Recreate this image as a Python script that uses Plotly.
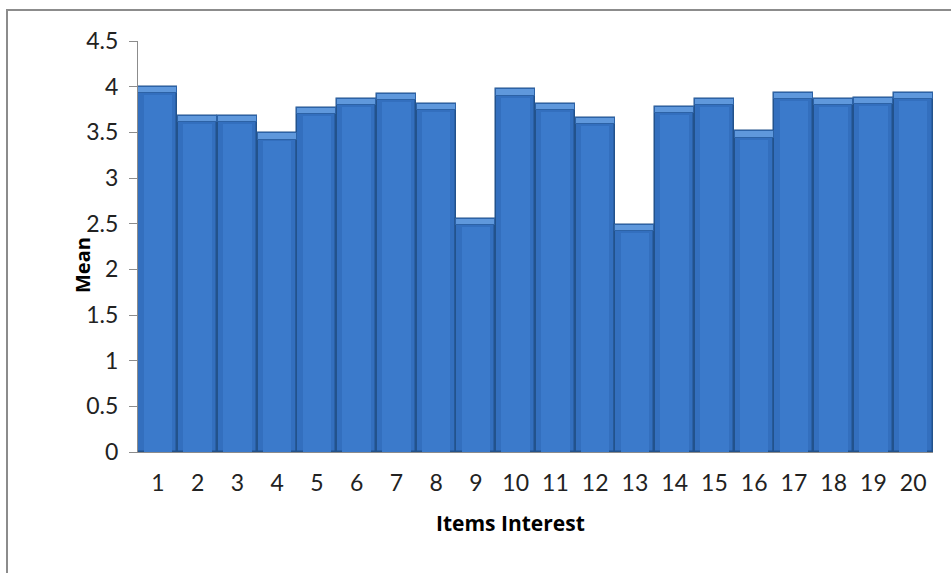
import plotly.graph_objects as go

items = [str(i) for i in range(1, 21)]
means = [4.00, 3.68, 3.68, 3.49, 3.77, 3.87, 3.92, 3.81, 2.55, 3.97,
         3.81, 3.66, 2.49, 3.78, 3.87, 3.51, 3.93, 3.87, 3.88, 3.93]
y_ticks = [0, 0.5, 1, 1.5, 2, 2.5, 3, 3.5, 4, 4.5]
y_tick_text = ["0", "0.5", "1", "1.5", "2", "2.5", "3", "3.5", "4", "4.5"]

W, H = 951, 573
L, R, T, B = 138, 18, 41, 121
pw, ph = W - L - R, H - T - B

fig = go.Figure()
# main bars
fig.add_trace(go.Bar(
    x=items, y=means,
    marker=dict(color="#336FBE", line=dict(color="#22528C", width=1.5)),
    width=0.98, hoverinfo="x+y"))
# inner highlight (cylinder shading)
fig.add_trace(go.Bar(
    x=items, y=[m - 0.09 for m in means],
    marker=dict(color="#3B7ACB", line=dict(width=0)),
    width=0.72, hoverinfo="skip"))
# top bevel highlight
fig.add_trace(go.Bar(
    x=items, y=[0.07] * len(means), base=[m - 0.07 for m in means],
    marker=dict(color="#5F98DC", line=dict(color="#2C62A6", width=1)),
    width=0.98, hoverinfo="skip"))

fig.update_layout(
    width=W, height=H,
    margin=dict(l=L, r=R, t=T, b=B, autoexpand=False),
    paper_bgcolor="white", plot_bgcolor="white",
    showlegend=False, barmode="overlay", bargap=0.0,
    font=dict(family="Open Sans, Lato, sans-serif", color="#222"),
    xaxis=dict(
        type="category", showgrid=False, showline=True, linecolor="#8C8C8C",
        linewidth=1, ticks="", tickfont=dict(size=23, family="Lato", color="#222"),
        ticklabelstandoff=10, automargin=False),
    yaxis=dict(
        range=[0, 4.5], tickvals=y_ticks, ticktext=y_tick_text,
        showgrid=False, showline=True, linecolor="#8C8C8C", linewidth=1,
        ticks="outside", ticklen=8, tickcolor="#8C8C8C",
        tickfont=dict(size=23, family="Lato", color="#222"),
        ticklabelstandoff=6, automargin=False, zeroline=False),
    annotations=[
        dict(text="<b>Mean</b>", xref="paper", yref="paper",
             x=(82 - L) / pw, y=1 - (265 - T) / ph, textangle=-90,
             showarrow=False, font=dict(size=20, family="Open Sans", color="#000"),
             xanchor="center", yanchor="middle"),
        dict(text="<b>Items Interest</b>", xref="paper", yref="paper",
             x=(510 - L) / pw, y=1 - (523 - T) / ph,
             showarrow=False, font=dict(size=21, family="Open Sans", color="#000"),
             xanchor="center", yanchor="middle"),
    ],
    shapes=[
        dict(type="rect", xref="paper", yref="paper",
             x0=(7 - L) / pw, x1=(W + 20 - L) / pw,
             y0=1 - (H + 20 - T) / ph, y1=1 + (T - 10) / ph,
             line=dict(color="#8C8C8C", width=2), fillcolor="rgba(0,0,0,0)",
             layer="below"),
    ],
)

fig.write_html("out.html")
